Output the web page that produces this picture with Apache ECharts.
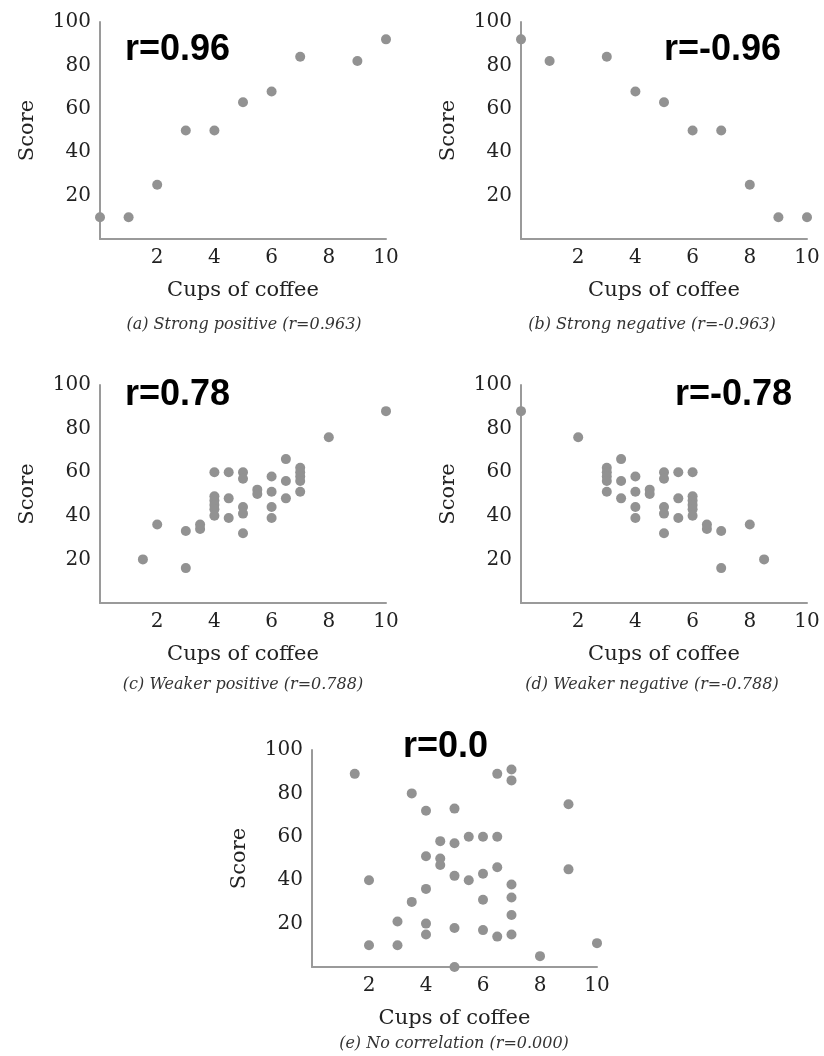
<!DOCTYPE html>
<html>
<head>
<meta charset="utf-8">
<title>Coffee and score</title>
<script src="https://cdn.jsdelivr.net/npm/echarts@6/dist/echarts.min.js"></script>
<style>
  html, body { margin: 0; padding: 0; background: #fff; }
  #main { width: 824px; height: 1056px; }
</style>
</head>
<body>
<div id="main"></div>
<script>
// cups of coffee (x) and score (y) for each panel
var strongPosX = [0, 1, 2, 3, 4, 5, 6, 7, 9, 10];
var strongPosY = [10, 10, 25, 50, 50, 63, 68, 84, 82, 92];

var strongNegX = [0, 1, 3, 4, 5, 6, 7, 8, 9, 10];
var strongNegY = [92, 82, 84, 68, 63, 50, 50, 25, 10, 10];

var weakPosX = [1.5, 2, 3, 3, 3.5, 3.5, 4, 4, 4, 4, 4, 4, 4.5, 4.5, 4.5, 5, 5, 5, 5, 5, 5.5, 5.5, 6, 6, 6, 6, 6.5, 6.5, 6.5, 7, 7, 7, 7, 7, 8, 10];
var weakPosY = [20, 36, 33, 16, 34, 36, 60, 49, 47, 45, 43, 40, 60, 48, 39, 60, 57, 44, 41, 32, 52, 50, 58, 51, 44, 39, 66, 56, 48, 62, 60, 58, 56, 51, 76, 88];

var weakNegX = [8.5, 8, 7, 7, 6.5, 6.5, 6, 6, 6, 6, 6, 6, 5.5, 5.5, 5.5, 5, 5, 5, 5, 5, 4.5, 4.5, 4, 4, 4, 4, 3.5, 3.5, 3.5, 3, 3, 3, 3, 3, 2, 0];
var weakNegY = [20, 36, 33, 16, 34, 36, 60, 49, 47, 45, 43, 40, 60, 48, 39, 60, 57, 44, 41, 32, 52, 50, 58, 51, 44, 39, 66, 56, 48, 62, 60, 58, 56, 51, 76, 88];

var noCorrX = [1.5, 2, 2, 3, 3, 3.5, 3.5, 4, 4, 4, 4, 4, 4.5, 4.5, 4.5, 5, 5, 5, 5, 5, 5.5, 5.5, 6, 6, 6, 6, 6.5, 6.5, 6.5, 6.5, 7, 7, 7, 7, 7, 7, 8, 9, 9, 10];
var noCorrY = [89, 40, 10, 21, 10, 30, 80, 72, 51, 36, 20, 15, 58, 50, 47, 73, 57, 42, 18, 0, 60, 40, 60, 43, 31, 17, 89, 60, 46, 14, 91, 86, 38, 32, 24, 15, 5, 75, 45, 11];

var xTicks = [0, 2, 4, 6, 8, 10];
var yTicks = [0, 20, 40, 60, 80, 100];

var rLabels = ['r=0.96', 'r=-0.96', 'r=0.78', 'r=-0.78', 'r=0.0'];
var captions = [
  '(a) Strong positive (r=0.963)',
  '(b) Strong negative (r=-0.963)',
  '(c) Weaker positive (r=0.788)',
  '(d) Weaker negative (r=-0.788)',
  '(e) No correlation (r=0.000)'
];

var panelX = [strongPosX, strongNegX, weakPosX, weakNegX, noCorrX];
var panelY = [strongPosY, strongNegY, weakPosY, weakNegY, noCorrY];

function zip(xs, ys) {
  var out = [];
  for (var i = 0; i < xs.length; i++) {
    out.push([xs[i], ys[i]]);
  }
  return out;
}

var grids = [
  { left: 100, top: 22, width: 286, height: 217 },
  { left: 521, top: 22, width: 286, height: 217 },
  { left: 100, top: 385, width: 286, height: 218 },
  { left: 521, top: 385, width: 286, height: 218 },
  { left: 312, top: 750, width: 285, height: 217 }
];

// r= labels, [left, top]
var rPos = [[125, 32], [664, 32], [125, 377], [675, 377], [403, 729]];
// caption centers
var capPos = [[244, 325], [652, 325], [243, 685], [652, 685], [454, 1044]];

var axisColor = '#9a9a9a';
var labelColor = '#222';
var serif = '"DejaVu Serif", "Liberation Serif", serif';

var xAxes = [], yAxes = [], series = [], graphics = [];

for (var i = 0; i < grids.length; i++) {
  xAxes.push({
    gridIndex: i,
    type: 'value',
    min: xTicks[0],
    max: xTicks[xTicks.length - 1],
    interval: xTicks[1] - xTicks[0],
    name: 'Cups of coffee',
    nameLocation: 'middle',
    nameGap: 41,
    nameTextStyle: { fontFamily: serif, fontSize: 21, color: labelColor },
    axisLine: { show: true, lineStyle: { color: axisColor, width: 2 } },
    axisTick: { show: false },
    splitLine: { show: false },
    axisLabel: { showMinLabel: false, margin: 9, fontFamily: serif, fontSize: 20, color: labelColor }
  });
  yAxes.push({
    gridIndex: i,
    type: 'value',
    min: yTicks[0],
    max: yTicks[yTicks.length - 1],
    interval: yTicks[1] - yTicks[0],
    name: 'Score',
    nameLocation: 'middle',
    nameGap: 62,
    nameTextStyle: { fontFamily: serif, fontSize: 21, color: labelColor },
    axisLine: { show: true, lineStyle: { color: axisColor, width: 2 } },
    axisTick: { show: false },
    splitLine: { show: false },
    axisLabel: { showMinLabel: false, margin: 9, fontFamily: serif, fontSize: 20, color: labelColor }
  });
  series.push({
    type: 'scatter',
    xAxisIndex: i,
    yAxisIndex: i,
    symbolSize: 10,
    itemStyle: { color: '#929292', opacity: 1 },
    data: zip(panelX[i], panelY[i])
  });
  graphics.push({
    type: 'text',
    left: rPos[i][0],
    top: rPos[i][1],
    style: {
      text: rLabels[i],
      font: 'bold 36px "Liberation Sans", Arial, sans-serif',
      fill: '#000'
    }
  });
  graphics.push({
    type: 'text',
    x: capPos[i][0],
    y: capPos[i][1],
    style: {
      text: captions[i],
      font: 'italic 16px ' + serif,
      fill: '#333',
      textAlign: 'center',
      textVerticalAlign: 'middle'
    }
  });
}

var myChart = echarts.init(document.getElementById('main'));
myChart.setOption({
  animation: false,
  backgroundColor: '#fff',
  grid: grids,
  xAxis: xAxes,
  yAxis: yAxes,
  series: series,
  graphic: graphics
});
</script>
</body>
</html>
